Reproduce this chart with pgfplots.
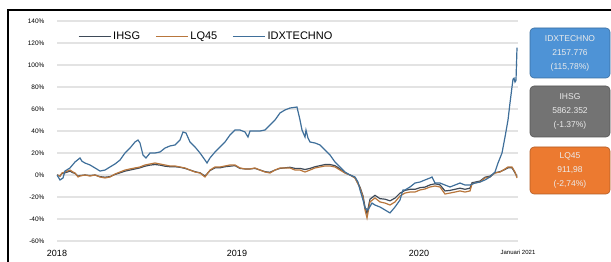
\documentclass[border=0pt]{standalone}
\usepackage{pgfplots}
\pgfplotsset{compat=1.18}
\usepackage{fontspec}
\setmainfont{Liberation Sans}
\definecolor{cIHSG}{HTML}{3E4A58}
\definecolor{cLQ}{HTML}{B8763C}
\definecolor{cIDX}{HTML}{3F6F9A}
\definecolor{bIDX}{HTML}{4E93D6}
\definecolor{bIHSG}{HTML}{737373}
\definecolor{bLQ}{HTML}{EC7A30}
\begin{document}
\begin{tikzpicture}[x=1pt,y=1pt]
\useasboundingbox (0,0) rectangle (611,262);
\draw[black, line width=1.4pt] (8,0) -- (8,252) -- (611,252);
\begin{axis}[
  at={(57pt,21pt)}, anchor=south west,
  scale only axis, width=461pt, height=220pt,
  xmin=57, xmax=518, ymin=-60, ymax=140,
  axis line style={draw=none},
  tick style={draw=none},
  ytick={-60,-40,-20,0,20,40,60,80,100,120,140},
  yticklabels={-60\%,-40\%,-20\%,0\%,20\%,40\%,60\%,80\%,100\%,120\%,140\%},
  yticklabel style={font=\fontsize{6.5}{7}\selectfont, xshift=-9pt},
  xtick={57,237,419,518},
  xticklabels={2018,2019,2020,{\fontsize{6}{7}\selectfont Januari 2021}},
  xticklabel style={font=\fontsize{9}{10}\selectfont, yshift=-6pt},
  ymajorgrids,
  grid style={draw=black!11, line width=1.2pt},
  legend style={at={(0.045,0.93)}, anchor=west, draw=none, fill=none,
    font=\fontsize{11}{12}\selectfont, legend columns=3,
    /tikz/every even column/.append style={column sep=13pt},
    inner sep=0pt},
  legend image code/.code={\draw[#1] (0pt,0pt) -- (32pt,0pt);},
]
\addlegendimage{cIHSG, line width=1.3pt}
\addlegendentry{IHSG}
\addlegendimage{cLQ, line width=1.3pt}
\addlegendentry{LQ45}
\addlegendimage{cIDX, line width=1.3pt}
\addlegendentry{IDXTECHNO}

% IHSG
\addplot[cIHSG, line width=1.2pt, forget plot] coordinates {
(57,0) (60,-1) (62,1.5) (65,2) (70,3.5) (73,2) (75,1.5) (78,-1) (80,-0.5) (85,0) (90,-0.5) (95,0) (100,-1.5) (105,-2) (110,-1.5) (115,0.5) (120,2) (125,3.5) (130,4.5) (135,5.5) (140,6.5) (145,8) (150,9) (155,9.5) (160,9) (165,8) (170,7.5) (175,7.5) (180,7) (185,6) (190,4.5) (195,3) (200,2) (205,-1) (210,4) (215,6.5) (220,6.5) (225,7.5) (230,8) (235,8.5) (240,6) (245,5.5) (250,5.5) (255,6) (260,4.5) (265,3) (270,2.5) (275,4.5) (280,6) (285,6.5) (290,7) (295,6) (300,6) (305,5) (310,6) (315,7.5) (320,8.5) (325,9.5) (330,9.5) (335,8.5) (340,5.5) (345,2) (350,0) (355,-2.5) (360,-11) (363,-19) (365,-29) (367,-35) (370,-22) (375,-18.5) (380,-21.5) (385,-22) (390,-23.5) (395,-21) (400,-16.5) (405,-14) (410,-13) (415,-13) (420,-11.5) (425,-11) (430,-9) (435,-8) (440,-9) (445,-14.5) (450,-14) (455,-13) (460,-12) (465,-13) (470,-12) (472,-7) (475,-6.5) (480,-5.5) (485,-2) (490,-1) (495,2) (500,3) (505,5) (508,6.5) (512,6.5) (515,2) (517,-1.4)
};
% LQ45
\addplot[cLQ, line width=1.2pt, forget plot] coordinates {
(57,0) (60,-0.9) (62,1.8) (65,2.7) (70,4.5) (73,2.7) (75,1.8) (78,-1.8) (80,-0.9) (85,0) (90,-0.9) (95,0) (100,-1.8) (105,-2.7) (110,-1.8) (115,0.9) (120,2.7) (125,4.5) (130,5.5) (135,6.4) (140,7.3) (145,9.1) (150,10) (155,10.9) (160,10) (165,9.1) (170,8.2) (175,8.2) (180,7.3) (185,6.4) (190,4.5) (195,2.7) (200,1.8) (205,-1.8) (210,4.5) (215,7.3) (220,7.3) (225,8.2) (230,9.1) (235,9.1) (240,6.4) (245,5.5) (250,5.5) (255,6.4) (260,4.5) (265,2.7) (270,1.8) (275,4.5) (280,6.4) (285,6.4) (290,6.4) (295,4.5) (300,4.5) (305,2.7) (310,4.5) (315,6.4) (320,7.3) (325,8.2) (330,8.2) (335,7.3) (340,4.5) (345,1.8) (350,0) (355,-2.7) (360,-11.8) (363,-20) (365,-31.8) (367,-39.1) (370,-24.5) (375,-20.9) (380,-24.5) (385,-25.5) (390,-27.3) (395,-24.5) (400,-19.1) (405,-16.4) (410,-15.5) (415,-15.5) (420,-13.6) (425,-12.7) (430,-10.9) (435,-10) (440,-10.9) (445,-17.3) (450,-16.4) (455,-15.5) (460,-14.5) (465,-15.5) (470,-14.5) (472,-8.2) (475,-7.3) (480,-6.4) (485,-2.7) (490,-1.8) (495,1.8) (500,2.7) (505,5.5) (508,7.3) (512,7.3) (515,2.7) (517,-2.74)
};
% IDXTECHNO
\addplot[cIDX, line width=1.2pt, forget plot] coordinates {
(57,0) (60,-4.5) (63,-2.7) (65,3.6) (70,6.4) (75,11.8) (78,14) (80,15.5) (82,12.5) (85,10.9) (90,9.1) (95,6.4) (100,3.6) (105,4.5) (110,7.3) (115,10) (120,13.6) (125,20) (130,24.5) (135,30) (138,31.8) (140,29.1) (143,18.2) (146,15.5) (150,20) (155,20) (160,20.9) (165,24.5) (170,26.4) (175,27.3) (180,31.8) (183,39.1) (186,38.2) (190,30) (195,25.5) (200,20) (205,13.6) (207,10.9) (210,15.5) (215,20.9) (220,25.5) (225,30) (230,36.4) (235,40.9) (240,40.9) (245,39.1) (248,34.5) (250,40) (255,40) (260,40) (265,40.9) (270,45.5) (275,50) (280,56.4) (285,59.1) (290,60.9) (297,61.8) (300,50) (302,40.9) (305,34.5) (306,40.9) (308,33.6) (310,30) (315,29.1) (320,27.3) (325,22.7) (330,18.2) (335,11.8) (340,7.3) (345,2.7) (350,0) (355,-1.8) (358,-6.4) (360,-13.6) (363,-22.7) (365,-30) (368,-31.8) (372,-25.5) (375,-27.3) (380,-29.1) (385,-31.8) (390,-34.5) (395,-29.1) (400,-22.7) (403,-13.6) (405,-13.6) (410,-10.9) (415,-7.3) (420,-6.4) (425,-4.5) (430,-2.7) (432,-1.8) (435,-7.3) (440,-7.3) (445,-9.1) (450,-10.9) (455,-9.1) (460,-7.3) (465,-9.1) (470,-9.1) (475,-7.3) (480,-6.4) (485,-4.5) (490,-1.8) (495,2.7) (498,10.9) (502,20) (505,34.5) (508,50) (510,65.5) (512,80) (513,87) (514,88) (515,84.5) (516,86) (517,115.78)
};
\end{axis}
\tikzset{box/.style={rounded corners=4pt, minimum width=80pt, text=white!92!black,
  align=center, font=\fontsize{8.5}{14}\selectfont, inner sep=0pt, line width=0.6pt}}
\node[box, fill=bIDX, draw=bIDX!75!black, minimum height=50pt] at (570,209) {IDXTECHNO\\2157.776\\(115,78\%)};
\node[box, fill=bIHSG, draw=bIHSG!75!black, minimum height=51pt] at (570,150.5) {IHSG\\5862.352\\(-1.37\%)};
\node[box, fill=bLQ, draw=bLQ!75!black, minimum height=47pt] at (570,91.5) {LQ45\\911,98\\(-2,74\%)};
\end{tikzpicture}
\end{document}
